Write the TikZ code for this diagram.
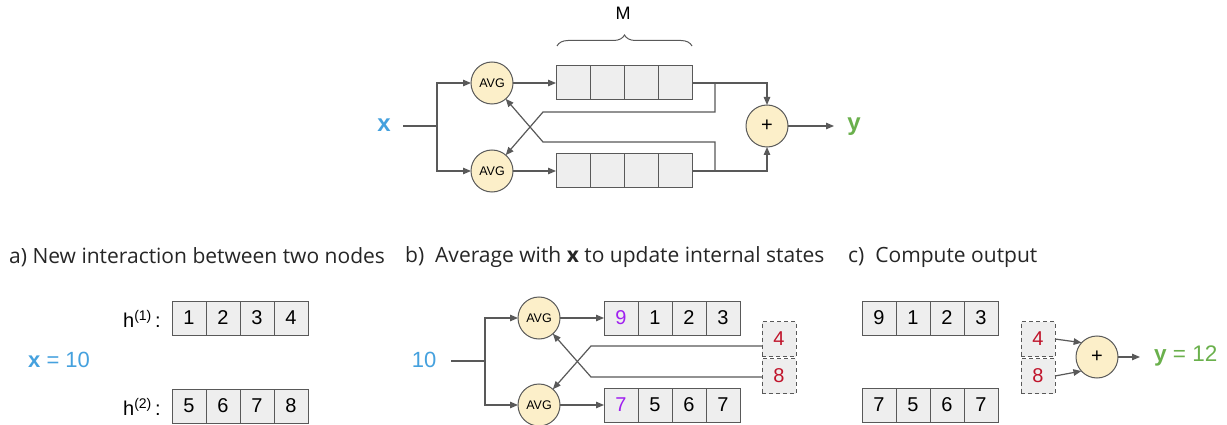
\documentclass[tikz,border=0pt]{standalone}
\usepackage{fontspec}
\setmainfont{Liberation Sans}
\newfontfamily\titlefont{Open Sans}
\usetikzlibrary{arrows.meta,decorations.pathreplacing}
\definecolor{linec}{HTML}{595959}
\definecolor{boxf}{HTML}{EEEEEE}
\definecolor{circf}{HTML}{FCEFC9}
\definecolor{xblue}{HTML}{45A1DE}
\definecolor{ygreen}{HTML}{6AB04C}
\definecolor{vred}{HTML}{C0142B}
\definecolor{vpurp}{HTML}{A020F0}
\tikzset{
  cell/.style={draw=linec, line width=1pt, fill=boxf, minimum width=34pt, minimum height=34pt, inner sep=0pt, outer sep=0pt, font=\fontsize{20}{22}\selectfont},
  dcell/.style={draw=linec, line width=1pt, dash pattern=on 4pt off 3pt, fill=boxf, minimum width=34pt, minimum height=35pt, inner sep=0pt, outer sep=0pt, font=\fontsize{20}{22}\selectfont, text=vred},
  circ/.style={circle, draw=linec, line width=1pt, fill=circf, minimum size=42pt, inner sep=0pt, outer sep=0pt},
  avg/.style={circ, font=\fontsize{12.5}{13}\selectfont},
  plusn/.style={circ, font=\fontsize{20}{22}\selectfont},
  ln/.style={draw=linec, line width=1.2pt},
  arr/.style={ln, -{Triangle[length=8pt,width=6.5pt]}},
  ttl/.style={anchor=west, inner sep=0pt, font=\titlefont\fontsize{21}{24}\selectfont, text=black!85},
}
\begin{document}
\begin{tikzpicture}[x=1pt,y=-1pt]
\useasboundingbox[fill=white] (0,0) rectangle (1227,425);

% ---------- top diagram ----------
\node[font=\fontsize{18}{20}\selectfont] (M) at (623,13) {M};
\coordinate (brL) at (557,46);
\coordinate (brR) at (692,46);
\draw[ln, line width=1pt, decorate, decoration={brace, amplitude=11pt}] (brL) -- (brR);

\node[text=xblue, font=\bfseries\fontsize{24}{26}\selectfont] (xl) at (384,125) {x};
\coordinate (xin) at (403,126);
\coordinate (xsp) at (437,126);
\node[avg] (avgT) at (492,83) {AVG};
\node[avg] (avgB) at (492,171) {AVG};
\foreach \i in {1,2,3,4} {
  \node[cell] (t\i) at ({573+34*(\i-1)},83) {};
  \node[cell] (b\i) at ({573+34*(\i-1)},171) {};
}
\node[plusn] (plus) at (767,126) {+};
\node[text=ygreen, font=\bfseries\fontsize{24}{26}\selectfont] (yl) at (854,127) {y};
\coordinate (yend) at (834,126);

\draw[ln] (xin) -- (xsp);
\draw[arr] (xsp) |- (avgT);
\draw[arr] (xsp) |- (avgB);
\draw[arr] (avgT) -- (t1);
\draw[arr] (avgB) -- (b1);
\draw[arr] (t4.east) -| (plus);
\draw[arr] (b4.east) -| (plus);
\coordinate (jT) at (715,83);
\coordinate (jT2) at (715,112);
\coordinate (kT) at (543,112);
\coordinate (jB) at (715,171);
\coordinate (jB2) at (715,142);
\coordinate (kB) at (543,142);
\draw[arr] (jT) -- (jT2) -- (kT) -- (avgB);
\draw[arr] (jB) -- (jB2) -- (kB) -- (avgT);
\draw[arr] (plus) -- (yend);

% ---------- a ----------
\node[ttl] (ta) at (9,257) {a) New interaction between two nodes};
\node[anchor=east, font=\fontsize{20}{22}\selectfont, inner sep=0pt] (h1) at (161,319) {h\textsuperscript{(1)}\,:};
\node[anchor=east, font=\fontsize{20}{22}\selectfont, inner sep=0pt] (h2) at (161,407) {h\textsuperscript{(2)}\,:};
\foreach \v [count=\i] in {1,2,3,4} \node[cell] (a1\i) at ({189+34*(\i-1)},318) {\v};
\foreach \v [count=\i] in {5,6,7,8} \node[cell] (a2\i) at ({189+34*(\i-1)},406) {\v};
\node[anchor=west, inner sep=0pt, text=xblue, font=\fontsize{22}{24}\selectfont] (xa) at (28,360) {\textbf{x} = 10};

% ---------- b ----------
\node[ttl] (tb) at (405,257) {b)\ \ Average with \textbf{x} to update internal states};
\node[text=xblue, font=\fontsize{22}{24}\selectfont] (bx) at (424,360) {10};
\coordinate (bin) at (451,361);
\coordinate (bsp) at (485,361);
\node[avg] (bavgT) at (539,318) {AVG};
\node[avg] (bavgB) at (539,405) {AVG};
\foreach \v/\c [count=\i] in {9/vpurp,1/black,2/black,3/black} \node[cell, text=\c] (bt\i) at ({621+34*(\i-1)},318) {\v};
\foreach \v/\c [count=\i] in {7/vpurp,5/black,6/black,7/black} \node[cell, text=\c] (bb\i) at ({621+34*(\i-1)},405) {\v};
\node[dcell] (bd4) at (779,339) {4};
\node[dcell] (bd8) at (779,376) {8};
\draw[ln] (bin) -- (bsp);
\draw[arr] (bsp) |- (bavgT);
\draw[arr] (bsp) |- (bavgB);
\draw[arr] (bavgT) -- (bt1);
\draw[arr] (bavgB) -- (bb1);
\coordinate (b4k) at (591,346);
\coordinate (b8k) at (591,377);
\draw[arr] ([yshift=-7pt]bd4.west) -- (b4k) -- (bavgB);
\draw[arr] ([yshift=-1pt]bd8.west) -- (b8k) -- (bavgT);

% ---------- c ----------
\node[ttl] (tc) at (848,257) {c)\ \ Compute output};
\foreach \v [count=\i] in {9,1,2,3} \node[cell] (ct\i) at ({879+34*(\i-1)},318) {\v};
\foreach \v [count=\i] in {7,5,6,7} \node[cell] (cb\i) at ({879+34*(\i-1)},405) {\v};
\node[dcell] (cd4) at (1038,339) {4};
\node[dcell] (cd8) at (1038,376) {8};
\node[plusn] (cplus) at (1097,357) {+};
\coordinate (cend) at (1140,357);
\draw[arr] (cd4.east) -- (cplus.137);
\draw[arr] (cd8.east) -- (cplus.222);
\draw[arr] (cplus) -- (cend);
\node[anchor=west, inner sep=0pt, text=ygreen, font=\fontsize{22.5}{24}\selectfont] (cy) at (1154,356) {\textbf{y} = 12};
\end{tikzpicture}
\end{document}
